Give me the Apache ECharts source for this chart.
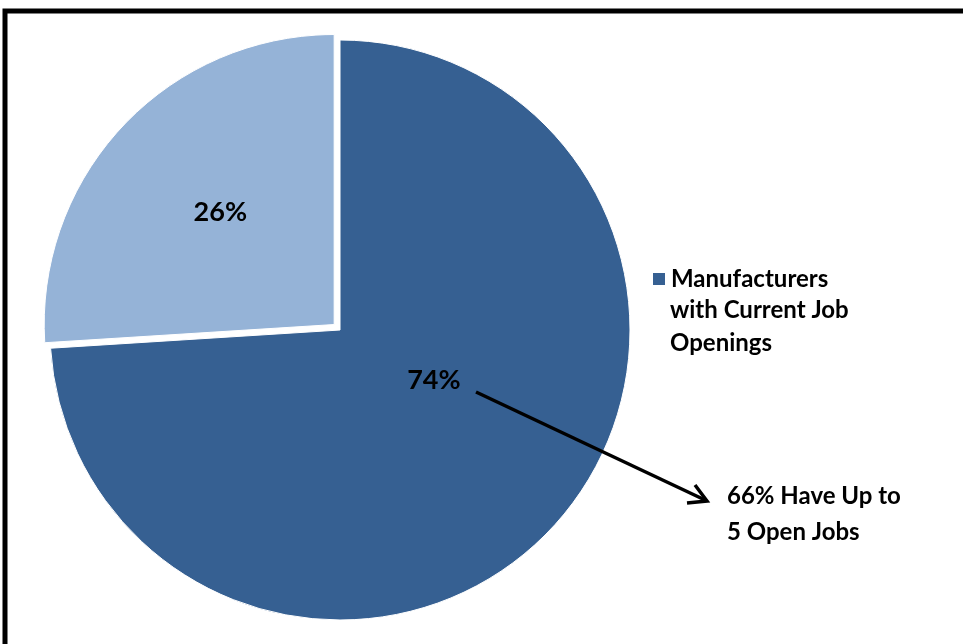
<!DOCTYPE html>
<html>
<head>
<meta charset="utf-8">
<script src="https://cdn.jsdelivr.net/npm/echarts@6/dist/echarts.min.js"></script>
<style>
  html, body { margin: 0; padding: 0; background: #fff; }
  #chart { width: 963px; height: 644px; }
</style>
</head>
<body>
<div id="chart"></div>
<script>
// slice names and shares (percent)
var sliceNames = ['Manufacturers with Current Job Openings', 'Other'];
var sliceValues = [74, 26];
var sliceColors = ['#366092', '#95b3d7'];
var legendLines = ['Manufacturers', 'with Current Job', 'Openings'];
var noteText = '66% Have Up to\n5 Open Jobs';

var font = 'Lato, "Open Sans", sans-serif';
var chart = echarts.init(document.getElementById('chart'));

var data = sliceNames.map(function (name, i) {
    return {
        name: name,
        value: sliceValues[i],
        selected: i === 1,
        itemStyle: { color: sliceColors[i] }
    };
});

chart.setOption({
    animation: false,
    legend: {
        data: [sliceNames[0]],
        orient: 'vertical',
        left: 646,
        top: 262,
        itemWidth: 14,
        itemHeight: 14,
        icon: 'rect',
        selectedMode: false,
        formatter: function () { return legendLines[0]; },
        textStyle: {
            fontFamily: font,
            fontWeight: 'bold',
            fontSize: 24,
            color: '#000'
        }
    },
    series: [{
        type: 'pie',
        center: [340, 330],
        radius: [0, 290],
        startAngle: 90,
        clockwise: true,
        selectedMode: 'single',
        selectedOffset: 8,
        silent: true,
        itemStyle: { borderColor: '#fff', borderWidth: 1 },
        label: {
            show: true,
            position: 'inside',
            formatter: '{c}%',
            fontFamily: font,
            fontWeight: 'bold',
            fontSize: 27,
            color: '#000'
        },
        labelLine: { show: false },
        labelLayout: function (params) {
            if (params.dataIndex === 0) {
                return { dx: -14, dy: -51 };
            }
            return { dx: -6, dy: -11 };
        },
        data: data
    }],
    graphic: [
        {
            type: 'rect',
            z: 100,
            shape: { x: 5, y: 11, width: 1000, height: 700 },
            style: { fill: null, stroke: '#000', lineWidth: 5 },
            silent: true
        },
        {
            type: 'text',
            z: 100,
            left: 670,
            top: 294,
            style: {
                text: legendLines.slice(1).join('\n'),
                font: 'bold 24px ' + font,
                lineHeight: 33,
                fill: '#000'
            },
            silent: true
        },
        {
            type: 'line',
            z: 100,
            shape: { x1: 476, y1: 392, x2: 705, y2: 500 },
            style: { stroke: '#000', lineWidth: 3.5 },
            silent: true
        },
        {
            type: 'polyline',
            z: 100,
            shape: { points: [[695, 485], [707, 501], [687, 503]] },
            style: { stroke: '#000', lineWidth: 3.5, fill: null },
            silent: true
        },
        {
            type: 'text',
            z: 100,
            left: 727,
            top: 478,
            style: {
                text: noteText,
                font: 'bold 24px ' + font,
                lineHeight: 36,
                fill: '#000'
            },
            silent: true
        }
    ]
});
</script>
</body>
</html>
